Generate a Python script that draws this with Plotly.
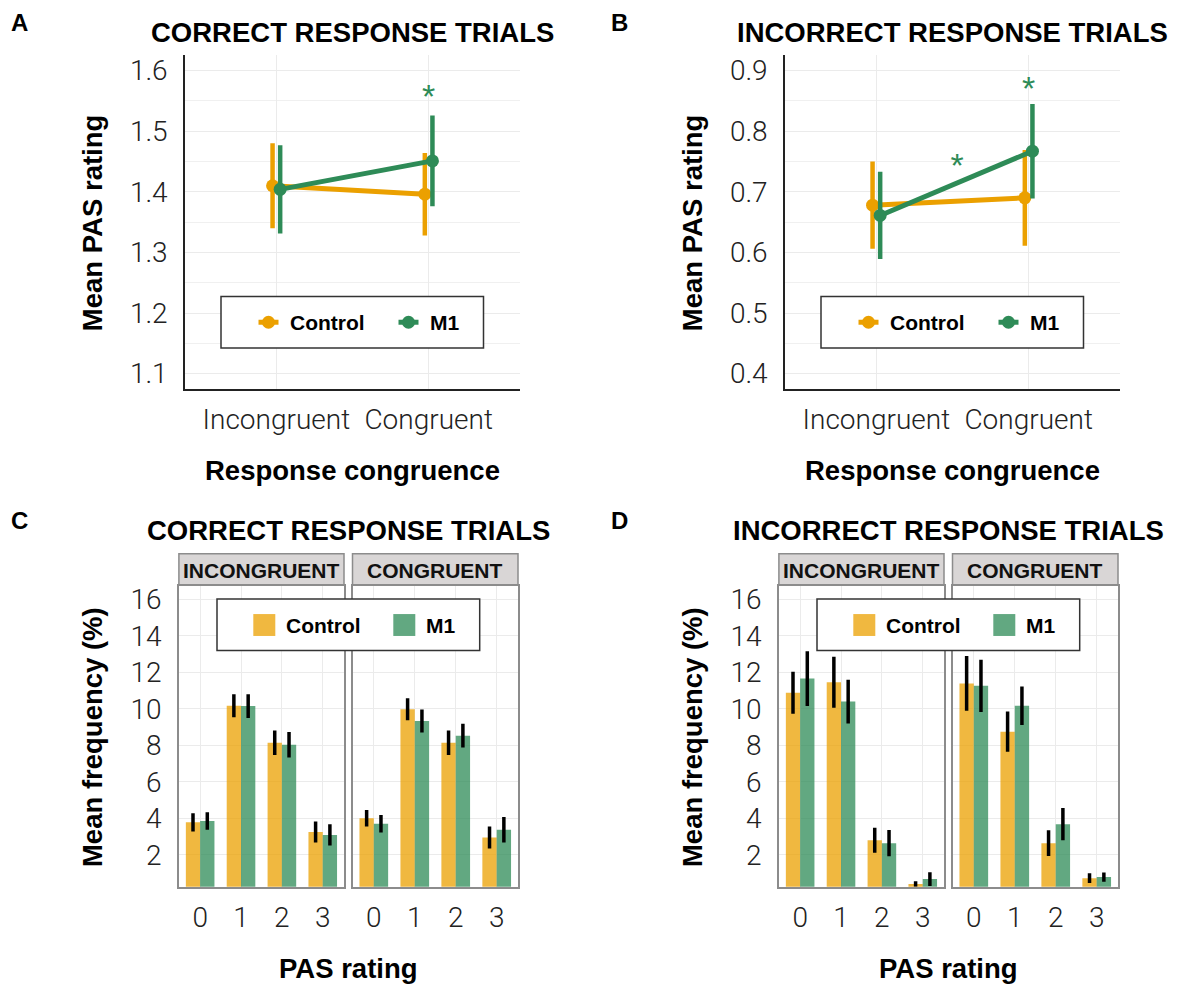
import plotly.graph_objects as go

# the page body adds an 8px margin, so the figure is drawn 8px in from the top-left corner
OFF = 8
W, H = 1200 - OFF, 1000 - OFF

ORANGE = "#EBA000"
GREEN = "#2E8B57"
BAR_ORANGE = "rgba(235,160,0,0.75)"
BAR_GREEN = "rgba(46,139,87,0.75)"
GRID = "#EBEBEB"
BOLD = "Liberation Sans"
LIGHT = "Roboto"

# Panels A/B: mean PAS rating by response congruence
CONGRUENCE = ["Incongruent", "Congruent"]
GROUPS = ["Control", "M1"]

A_CONTROL_MEAN = [1.410, 1.396]
A_CONTROL_ERR = [0.070, 0.068]
A_M1_MEAN = [1.404, 1.451]
A_M1_ERR = [0.073, 0.075]

B_CONTROL_MEAN = [0.678, 0.690]
B_CONTROL_ERR = [0.072, 0.079]
B_M1_MEAN = [0.661, 0.767]
B_M1_ERR = [0.072, 0.078]

# significance stars (x in category units, 1 = Incongruent, 2 = Congruent)
STARS_A_X = [2.0]
STARS_A_Y = [1.552]
STARS_B_X = [2.0, 1.53]
STARS_B_Y = [0.865, 0.738]

# Panels C/D: mean frequency (%) by PAS rating
PAS = [0, 1, 2, 3]
FACETS = ["INCONGRUENT", "CONGRUENT"]

C_INC_CONTROL = [3.78, 10.17, 8.14, 3.25]
C_INC_CONTROL_ERR = [0.50, 0.63, 0.67, 0.58]
C_INC_M1 = [3.85, 10.15, 8.03, 3.09]
C_INC_M1_ERR = [0.48, 0.65, 0.70, 0.58]
C_CON_CONTROL = [4.00, 9.98, 8.14, 2.95]
C_CON_CONTROL_ERR = [0.45, 0.60, 0.67, 0.60]
C_CON_M1 = [3.70, 9.33, 8.53, 3.37]
C_CON_M1_ERR = [0.48, 0.63, 0.65, 0.70]

D_INC_CONTROL = [10.88, 11.46, 2.80, 0.40]
D_INC_CONTROL_ERR = [1.15, 1.40, 0.68, 0.15]
D_INC_M1 = [11.66, 10.40, 2.64, 0.67]
D_INC_M1_ERR = [1.50, 1.20, 0.72, 0.38]
D_CON_CONTROL = [11.39, 8.75, 2.64, 0.72]
D_CON_CONTROL_ERR = [1.50, 1.10, 0.70, 0.27]
D_CON_M1 = [11.26, 10.17, 3.68, 0.78]
D_CON_M1_ERR = [1.43, 1.05, 0.88, 0.25]

DODGE = 0.025


def fx(x):
    # page pixel -> paper fraction
    return (x - OFF) / W


def fy(y):
    return 1 - (y - OFF) / H


fig = go.Figure()

# ---- line panels (A, B) ----
line_panels = [
    ("x", "y", A_CONTROL_MEAN, A_CONTROL_ERR, A_M1_MEAN, A_M1_ERR, STARS_A_X, STARS_A_Y),
    ("x2", "y2", B_CONTROL_MEAN, B_CONTROL_ERR, B_M1_MEAN, B_M1_ERR, STARS_B_X, STARS_B_Y),
]
for xa, ya, cm, ce, mm, me, sx, sy in line_panels:
    for name, means, errs, color, shift in [("Control", cm, ce, ORANGE, -DODGE), ("M1", mm, me, GREEN, DODGE)]:
        fig.add_trace(go.Scatter(
            x=[i + 1 + shift for i in range(len(CONGRUENCE))],
            y=means,
            name=name,
            mode="lines+markers",
            line=dict(color=color, width=5),
            marker=dict(size=13, color=color),
            error_y=dict(type="data", array=errs, color=color, thickness=4.5, width=0),
            xaxis=xa, yaxis=ya, showlegend=False,
        ))
    fig.add_trace(go.Scatter(
        x=sx, y=sy, mode="text", text=["*"] * len(sx),
        textfont=dict(size=34, color=GREEN, family=BOLD),
        xaxis=xa, yaxis=ya, showlegend=False, hoverinfo="skip",
    ))

# ---- bar panels (C, D) ----
bar_panels = [
    ("x3", "y3", C_INC_CONTROL, C_INC_CONTROL_ERR, C_INC_M1, C_INC_M1_ERR),
    ("x4", "y4", C_CON_CONTROL, C_CON_CONTROL_ERR, C_CON_M1, C_CON_M1_ERR),
    ("x5", "y5", D_INC_CONTROL, D_INC_CONTROL_ERR, D_INC_M1, D_INC_M1_ERR),
    ("x6", "y6", D_CON_CONTROL, D_CON_CONTROL_ERR, D_CON_M1, D_CON_M1_ERR),
]
for xa, ya, cv, ce, mv, me in bar_panels:
    for name, vals, errs, color in [("Control", cv, ce, BAR_ORANGE), ("M1", mv, me, BAR_GREEN)]:
        fig.add_trace(go.Bar(
            x=PAS, y=vals, name=name, offsetgroup=name,
            marker=dict(color=color, line=dict(width=0)),
            error_y=dict(type="data", array=errs, color="black", thickness=3.5, width=0),
            xaxis=xa, yaxis=ya, showlegend=False,
        ))

tickfont = dict(family=LIGHT, size=28, color="#222", weight=300)

line_x = dict(range=[0.4, 2.6], tickvals=[1, 2], ticktext=CONGRUENCE, showgrid=True, gridcolor=GRID,
              zeroline=False, showline=True, linecolor="#222", linewidth=1.5, ticks="",
              tickfont=tickfont, ticklabelstandoff=5)
line_y = dict(dtick=0.1, tickformat=".1f", showgrid=True, gridcolor=GRID, zeroline=False,
              showline=True, linecolor="#222", linewidth=1.5, ticks="", tickfont=tickfont,
              ticklabelstandoff=10, minor=dict(dtick=0.05, showgrid=True, gridcolor="#F0F0F0"))

bar_x = dict(range=[-0.52, 3.52], tickvals=PAS, showgrid=True, gridcolor=GRID, zeroline=False,
             showline=True, mirror=True, linecolor="#8C8C8C", linewidth=1.5, ticks="",
             tickfont=tickfont, ticklabelstandoff=5)
bar_y = dict(range=[0.25, 16.75], tickvals=[2, 4, 6, 8, 10, 12, 14, 16], showgrid=True, gridcolor=GRID,
             zeroline=False, showline=True, mirror=True, linecolor="#8C8C8C", linewidth=1.5, ticks="",
             tickfont=tickfont, ticklabelstandoff=10)

TOP_Y = [fy(388.3), fy(53)]
BOT_Y = [fy(888.3), fy(586)]

layout = dict(
    width=W, height=H, margin=dict(l=0, r=0, t=0, b=0),
    paper_bgcolor="white", plot_bgcolor="white",
    barmode="group", bargap=0.3, bargroupgap=0,
    xaxis=dict(line_x, domain=[fx(185), fx(520)], anchor="y"),
    yaxis=dict(line_y, domain=TOP_Y, range=[1.075, 1.626], anchor="x"),
    xaxis2=dict(line_x, domain=[fx(785), fx(1120)], anchor="y2"),
    yaxis2=dict(line_y, domain=TOP_Y, range=[0.375, 0.926], anchor="x2"),
)
facet_x = [(178.9, 344.0), (352.5, 518.0), (778.9, 944.0), (952.5, 1118.0)]
for k, (x0, x1) in enumerate(facet_x):
    n = k + 3
    layout[f"xaxis{n}"] = dict(bar_x, domain=[fx(x0), fx(x1)], anchor=f"y{n}")
    layout[f"yaxis{n}"] = dict(bar_y, domain=BOT_Y, anchor=f"x{n}", showticklabels=(k % 2 == 0))
fig.update_layout(**layout)

annotations = []
shapes = []


def text(x, y, s, size, angle=0, anchor="center", family=BOLD, color="black"):
    annotations.append(dict(x=fx(x), y=fy(y), xref="paper", yref="paper", text=s, showarrow=False,
                            textangle=angle, xanchor=anchor, yanchor="middle",
                            font=dict(family=family, size=size, color=color)))


# panel letters and titles
for dx, dy, letter, title in [(0, 0, "A", "CORRECT RESPONSE TRIALS"), (600, 0, "B", "INCORRECT RESPONSE TRIALS"),
                              (0, 500, "C", "CORRECT RESPONSE TRIALS"), (600, 500, "D", "INCORRECT RESPONSE TRIALS")]:
    text(19 + dx, 21 + dy, "<b>%s</b>" % letter, 24)
    cx = 352.5 if dy == 0 else 348.7
    text(cx + dx, 31 + dy, "<b>%s</b>" % title, 27.5)

# axis titles
for dx in (0, 600):
    text(92 + dx, 222, "<b>Mean PAS rating</b>", 27.5, angle=-90)
    text(352.5 + dx, 470, "<b>Response congruence</b>", 27.5)
    text(92 + dx, 738, "<b>Mean frequency (%)</b>", 27.5, angle=-90)
    text(348.7 + dx, 970, "<b>PAS rating</b>", 27.5)

# facet strips
for k, (x0, x1) in enumerate(facet_x):
    shapes.append(dict(type="rect", xref="paper", yref="paper", x0=fx(x0), x1=fx(x1), y0=fy(585), y1=fy(554),
                       fillcolor="#D9D6D6", line=dict(color="#8C8C8C", width=1.5)))
    text((x0 + x1) / 2, 570.5, "<b>%s</b>" % FACETS[k % 2], 21, color="#111")


def legend_box(x0, x1, y0, y1):
    shapes.append(dict(type="rect", xref="paper", yref="paper", x0=fx(x0), x1=fx(x1), y0=fy(y1), y1=fy(y0),
                       fillcolor="white", line=dict(color="#333", width=1.5), layer="above"))


# point-range legends (A, B)
for dx in (0, 600):
    legend_box(221 + dx, 483.5 + dx, 295.7, 347.3)
    cy = 321.5
    for cx, color, name, tx in [(268.5, ORANGE, "Control", 288), (408.5, GREEN, "M1", 428)]:
        shapes.append(dict(type="line", xref="paper", yref="paper", x0=fx(cx + dx - 10), x1=fx(cx + dx + 10),
                           y0=fy(cy), y1=fy(cy), line=dict(color=color, width=5), layer="above"))
        r = 6.5
        shapes.append(dict(type="circle", xref="paper", yref="paper", x0=fx(cx + dx - r), x1=fx(cx + dx + r),
                           y0=fy(cy + r), y1=fy(cy - r), fillcolor=color, line=dict(width=0), layer="above"))
        text(tx + dx, cy, "<b>%s</b>" % name, 21, anchor="left")

# bar legends (C, D)
for dx in (0, 600):
    legend_box(217 + dx, 479.7 + dx, 599.3, 651)
    cy = 625.5
    for sx, color, name, tx in [(253.3, BAR_ORANGE, "Control", 284.3), (393.3, BAR_GREEN, "M1", 424)]:
        shapes.append(dict(type="rect", xref="paper", yref="paper", x0=fx(sx + dx), x1=fx(sx + dx + 22),
                           y0=fy(cy + 11), y1=fy(cy - 11), fillcolor=color, line=dict(width=0), layer="above"))
        text(tx + dx, cy, "<b>%s</b>" % name, 21, anchor="left")

fig.update_layout(annotations=annotations, shapes=shapes)
fig.write_html("out.html")
